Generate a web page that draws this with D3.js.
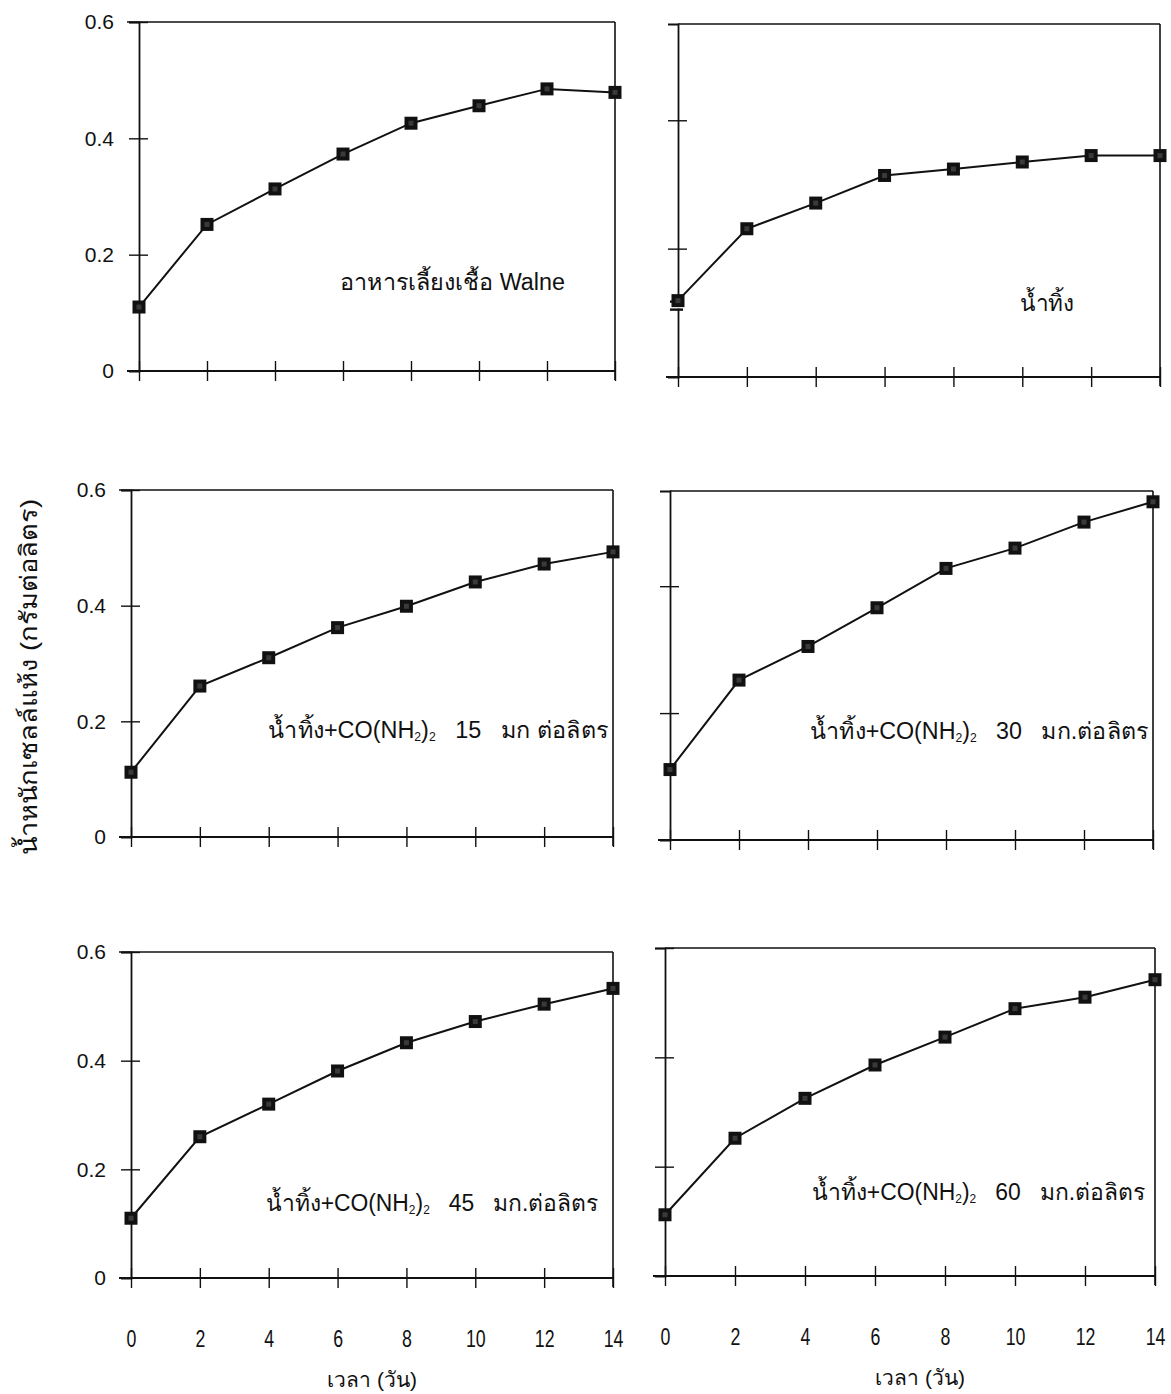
<!DOCTYPE html>
<html>
<head>
<meta charset="utf-8">
<script src="https://cdn.jsdelivr.net/npm/d3@7"></script>
<style>
  html, body { margin: 0; padding: 0; background: #fff; }
  svg { display: block; }
  text { font-family: "Liberation Sans", Arial, sans-serif; fill: #111; }
</style>
</head>
<body>
<svg id="chart" width="1171" height="1394"></svg>
<script>
// Sampling days (x axis)
const days = [0, 2, 4, 6, 8, 10, 12, 14];
const yTickValues = [0, 0.2, 0.4, 0.6];
const yTickLabels = ["0", "0.2", "0.4", "0.6"];

// Dry cell weight (g/L) for each culture medium
const walne    = [0.110, 0.252, 0.313, 0.373, 0.426, 0.456, 0.485, 0.479];
const effluent = [0.119, 0.231, 0.271, 0.314, 0.324, 0.335, 0.345, 0.345];
const urea15   = [0.112, 0.261, 0.310, 0.362, 0.399, 0.441, 0.472, 0.493];
const urea30   = [0.111, 0.252, 0.305, 0.366, 0.428, 0.460, 0.501, 0.533];
const urea45   = [0.110, 0.260, 0.320, 0.381, 0.433, 0.472, 0.504, 0.533];
const urea60   = [0.112, 0.252, 0.325, 0.386, 0.437, 0.489, 0.510, 0.542];

// Panel captions: [text before subscript, subscript, text, subscript, rest]
const captions = [
  ["อาหารเลี้ยงเชื้อ Walne"],
  ["น้ำทิ้ง"],
  ["น้ำทิ้ง+CO(NH", "2", ")", "2", "   15   มก ต่อลิตร"],
  ["น้ำทิ้ง+CO(NH", "2", ")", "2", "   30   มก.ต่อลิตร"],
  ["น้ำทิ้ง+CO(NH", "2", ")", "2", "   45   มก.ต่อลิตร"],
  ["น้ำทิ้ง+CO(NH", "2", ")", "2", "   60   มก.ต่อลิตร"]
];
const yTitle = "น้ำหนักเซลล์แห้ง (กรัมต่อลิตร)";
const xTitle = "เวลา (วัน)";

const seriesList = [walne, effluent, urea15, urea30, urea45, urea60];

// Panel geometry and caption placement
const panels = [
  { left: 139, right: 615, top: 22,  bottom: 371,  yTop: 0.6,  yLabels: true,  capX: 340, capY: 290, capW: 225, xLabels: false, axisBreak: false },
  { left: 678, right: 1160, top: 24, bottom: 377,  yTop: 0.55, yLabels: false, capX: 1020, capY: 311, capW: 54, xLabels: false, axisBreak: true },
  { left: 131, right: 613, top: 490, bottom: 837,  yTop: 0.6,  yLabels: true,  capX: 268, capY: 738, capW: 340, xLabels: false, axisBreak: false },
  { left: 670, right: 1153, top: 491, bottom: 840, yTop: 0.55, yLabels: false, capX: 810, capY: 739, capW: 338, xLabels: false, axisBreak: false },
  { left: 131, right: 613, top: 952, bottom: 1278, yTop: 0.6,  yLabels: true,  capX: 266, capY: 1211, capW: 332, xLabels: true, axisBreak: false },
  { left: 665, right: 1155, top: 948, bottom: 1276, yTop: 0.6,  yLabels: false, capX: 812, capY: 1200, capW: 333, xLabels: true, axisBreak: false }
];

const X_NARROW = 0.74;   // horizontal squeeze for the day labels
const ink = "#111";
const svg = d3.select("#chart");

panels.forEach((p, i) => {
  const values = seriesList[i];
  const x = d3.scaleLinear().domain([0, 14]).range([p.left, p.right]);
  const y = d3.scaleLinear().domain([0, p.yTop]).range([p.bottom, p.top]);
  const g = svg.append("g");

  // frame: top and right borders
  g.append("line").attr("x1", p.yLabels ? p.left - 12 : p.left).attr("x2", p.right)
    .attr("y1", p.top).attr("y2", p.top).attr("stroke", ink).attr("stroke-width", 1.6);
  g.append("line").attr("x1", p.right).attr("x2", p.right)
    .attr("y1", p.top).attr("y2", p.bottom + 9).attr("stroke", ink).attr("stroke-width", 1.6);

  // y axis, ticks crossing the axis line
  const yAxis = d3.axisLeft(y)
    .tickValues(yTickValues.filter(v => v <= p.yTop + 1e-9 && v > 0))
    .tickSize(10)
    .tickFormat(d => p.yLabels ? yTickLabels[yTickValues.indexOf(d)] : "");
  const ya = g.append("g").attr("transform", `translate(${p.left},0)`).call(yAxis);
  ya.select(".domain").attr("stroke", ink).attr("stroke-width", 1.8);
  ya.selectAll(".tick line").attr("stroke", ink).attr("stroke-width", 1.4).attr("x1", 9);
  ya.selectAll(".tick text").attr("x", -25).attr("font-size", 21).attr("fill", ink);
  if (p.yLabels) {
    ya.append("text").attr("x", -25).attr("y", p.bottom).attr("dy", "0.32em")
      .attr("text-anchor", "end").attr("font-size", 21).attr("fill", ink).text(yTickLabels[0]);
  }

  // x axis: ticks crossing the baseline
  const xAxis = d3.axisBottom(x).tickValues(days).tickSize(10).tickFormat(d => p.xLabels ? d : "");
  const xa = g.append("g").attr("transform", `translate(0,${p.bottom})`).call(xAxis);
  xa.select(".domain").remove();
  xa.selectAll(".tick line").attr("stroke", ink).attr("stroke-width", 1.4).attr("y1", -10);
  xa.selectAll(".tick text").attr("y", 52).attr("font-size", 24)
    .attr("transform", `scale(${X_NARROW},1)`).attr("fill", ink);
  g.append("line").attr("x1", p.left - 12).attr("x2", p.right)
    .attr("y1", p.bottom).attr("y2", p.bottom).attr("stroke", ink).attr("stroke-width", 1.8);

  // axis break mark near the origin
  if (p.axisBreak) {
    const yb = y(values[0]) + 5;
    g.append("rect").attr("x", p.left - 3).attr("y", yb - 3).attr("width", 6).attr("height", 6).attr("fill", "#fff");
    [yb - 4, yb + 4].forEach(v => g.append("line").attr("x1", p.left - 8).attr("x2", p.left + 5)
      .attr("y1", v).attr("y2", v).attr("stroke", ink).attr("stroke-width", 2.4));
  }

  // growth curve
  const pts = days.map((d, k) => [d, values[k]]);
  g.append("path").datum(pts)
    .attr("fill", "none").attr("stroke", ink).attr("stroke-width", 2)
    .attr("d", d3.line().x(d => x(d[0])).y(d => y(d[1])));
  const m = g.selectAll(".mk").data(pts).enter().append("g")
    .attr("transform", d => `translate(${x(d[0])},${y(d[1])})`);
  m.append("rect").attr("x", -6.5).attr("y", -6.5).attr("width", 13).attr("height", 13).attr("fill", ink);
  m.append("rect").attr("x", -2.5).attr("y", -2.5).attr("width", 5).attr("height", 5).attr("fill", "#3a3a3a");

  // caption
  const c = captions[i];
  const t = g.append("text").attr("x", p.capX).attr("y", p.capY).attr("font-size", 23)
    .attr("textLength", p.capW).attr("lengthAdjust", "spacingAndGlyphs")
    .style("white-space", "pre");
  t.append("tspan").text(c[0]);
  if (c.length > 1) {
    t.append("tspan").attr("font-size", 12).attr("dy", 3).text(c[1]);
    t.append("tspan").attr("dy", -3).text(c[2]);
    t.append("tspan").attr("font-size", 12).attr("dy", 3).text(c[3]);
    t.append("tspan").attr("dy", -3).text(c[4]);
  }
});

// axis titles
svg.append("text").attr("transform", "translate(37,677) rotate(-90)")
  .attr("text-anchor", "middle").attr("font-size", 24)
  .attr("textLength", 356).attr("lengthAdjust", "spacingAndGlyphs").text(yTitle);
svg.append("text").attr("x", 372).attr("y", 1387).attr("text-anchor", "middle").attr("font-size", 21).text(xTitle);
svg.append("text").attr("x", 920).attr("y", 1385).attr("text-anchor", "middle").attr("font-size", 21).text(xTitle);
</script>
</body>
</html>
